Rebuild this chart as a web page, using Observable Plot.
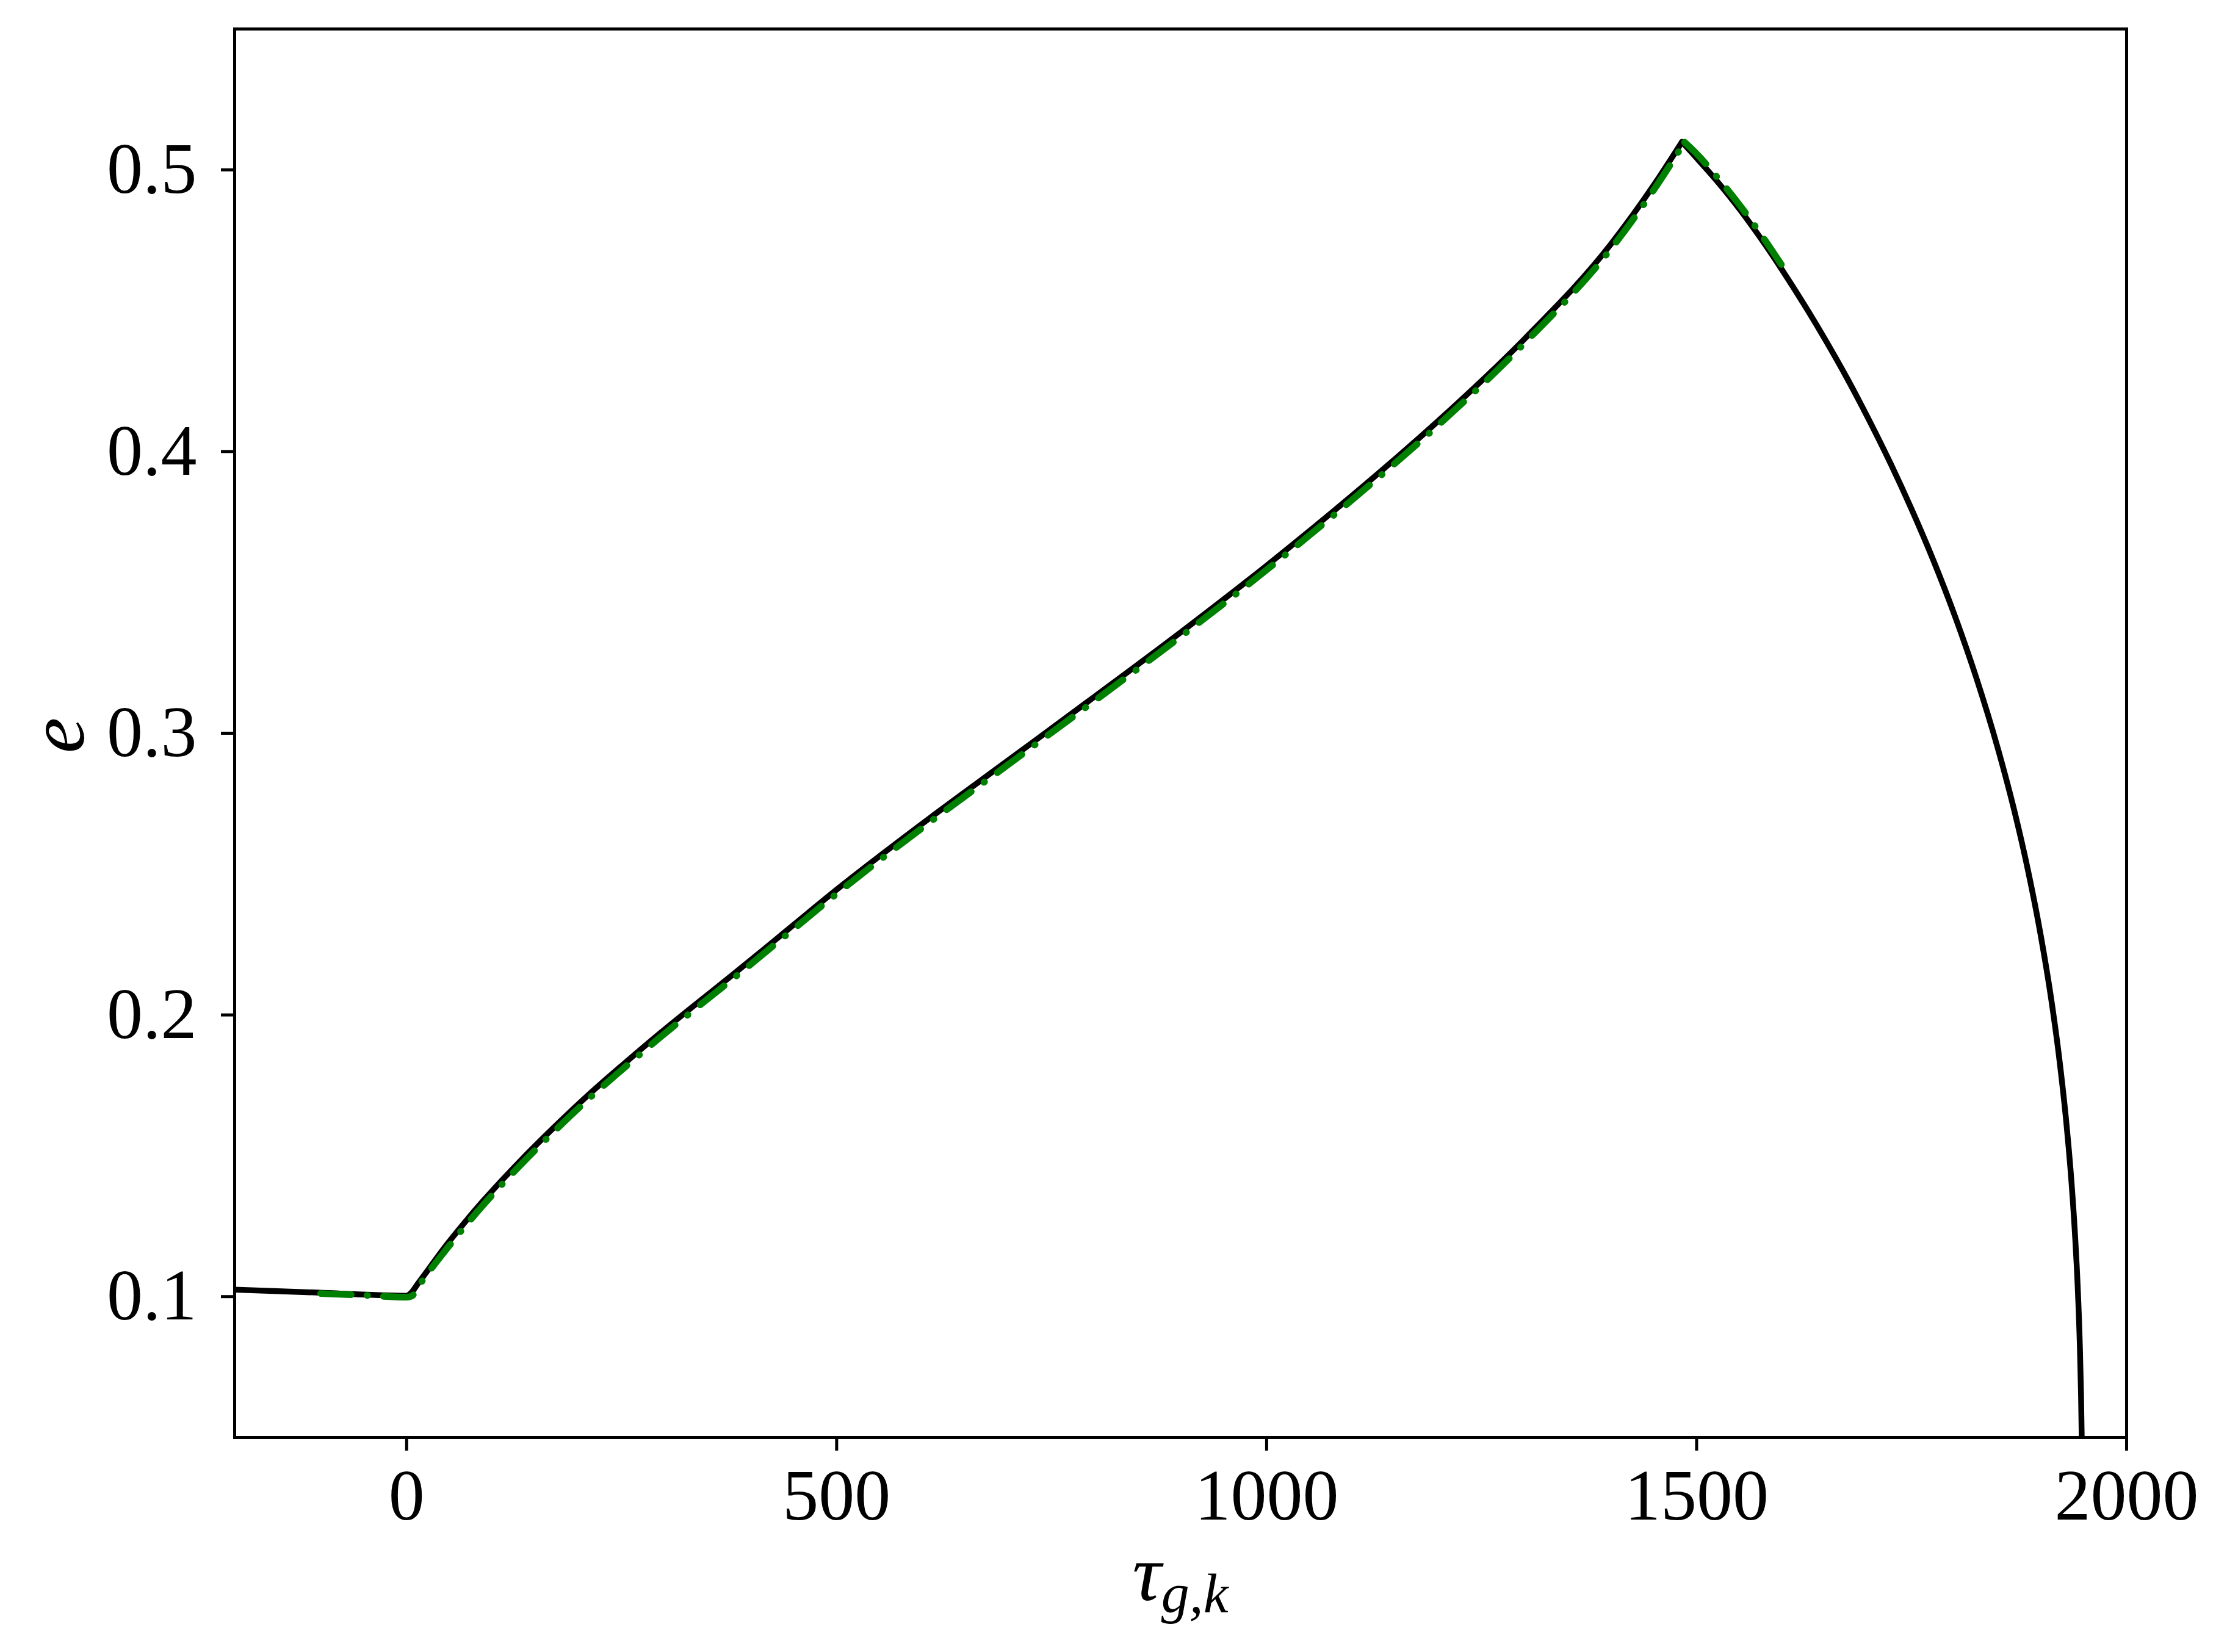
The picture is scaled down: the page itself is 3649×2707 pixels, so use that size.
<!DOCTYPE html>
<html>
<head>
<meta charset="utf-8">
<script src="https://cdn.jsdelivr.net/npm/d3@7"></script>
<script src="https://cdn.jsdelivr.net/npm/@observablehq/plot@0.6"></script>
<style>
  html, body { margin: 0; padding: 0; background: #ffffff; }
  #chart svg { display: block; }
</style>
</head>
<body>
<div id="chart"></div>
<script>
// ---- data ----
// black curve: rising branch (up to the peak) and falling branch (from the peak)
const blackRiseTau = [-200, -100, 0, 4, 14, 48, 89, 130, 171, 212, 254, 295, 337, 378, 411, 450, 500, 600, 700, 800, 900, 1000, 1100, 1200, 1300, 1400, 1450, 1483];
const blackRiseE   = [0.1025, 0.1014, 0.1003, 0.1010, 0.1050, 0.1190, 0.1340, 0.1475, 0.1600, 0.1718, 0.1830, 0.1936, 0.2040, 0.2140, 0.2222, 0.2320, 0.2445, 0.2680, 0.2905, 0.3130, 0.3358, 0.3595, 0.3845, 0.4110, 0.4400, 0.4735, 0.4945, 0.5099];
const blackFallTau = [1483, 1500, 1525, 1550, 1575, 1600, 1625, 1650, 1675, 1700, 1725, 1750, 1775, 1800, 1825, 1850, 1870, 1885, 1900, 1912, 1922, 1930, 1936, 1940, 1943, 1945.5, 1947, 1947.8];
const blackFallE   = [0.5099, 0.5042, 0.4955, 0.4860, 0.4755, 0.4642, 0.4522, 0.4395, 0.4260, 0.4115, 0.3961, 0.3795, 0.3616, 0.3419, 0.3199, 0.2949, 0.2718, 0.2518, 0.2285, 0.2063, 0.1838, 0.1615, 0.1403, 0.1220, 0.1044, 0.0839, 0.0654, 0.0500];

// green dash-dot curve
const greenRiseTau = [-100, -50, 0, 6, 14, 48, 89, 130, 171, 212, 254, 295, 337, 378, 450, 500, 600, 700, 800, 900, 1000, 1100, 1200, 1300, 1400, 1450, 1486];
const greenRiseE   = [0.1011, 0.1005, 0.0998, 0.1002, 0.1038, 0.1175, 0.1325, 0.1460, 0.1585, 0.1703, 0.1815, 0.1921, 0.2025, 0.2125, 0.2305, 0.2430, 0.2665, 0.2890, 0.3115, 0.3343, 0.3580, 0.3830, 0.4095, 0.4385, 0.4718, 0.4928, 0.5098];
const greenFallTau = [1486, 1500, 1525, 1550, 1575, 1600];
const greenFallE   = [0.5098, 0.5057, 0.4970, 0.4875, 0.4770, 0.4657];

const xTicks = [0, 500, 1000, 1500, 2000];
const yTicks = [0.1, 0.2, 0.3, 0.4, 0.5];
const xDomain = [-200, 2000];
const yDomain = [0.05, 0.55];
const xLabelMain = "τ";
const xLabelSub = "g,k";
const yLabel = "e";

// ---- build tables ----
const toRows = (ts, es, seg) => ts.map((t, i) => ({t, e: es[i], seg}));
const black = [...toRows(blackRiseTau, blackRiseE, "rise"), ...toRows(blackFallTau, blackFallE, "fall")];
const green = [...toRows(greenRiseTau, greenRiseE, "rise"), ...toRows(greenFallTau, greenFallE, "fall")];

const W = 3649, H = 2707;
const mL = 384, mR = 165, mT = 47, mB = 352;
const fontFamily = "'Liberation Serif', 'DejaVu Serif', serif";

const chart = Plot.plot({
  width: W,
  height: H,
  marginLeft: mL,
  marginRight: mR,
  marginTop: mT,
  marginBottom: mB,
  style: {background: "#ffffff", fontFamily, color: "#000"},
  x: {domain: xDomain},
  y: {domain: yDomain},
  marks: [
    Plot.line(black, {x: "t", y: "e", z: "seg", stroke: "#000000", strokeWidth: 9.5, curve: "monotone-x", clip: true}),
    Plot.line(green, {x: "t", y: "e", z: "seg", stroke: "#008000", strokeWidth: 11, curve: "monotone-x",
                      strokeDasharray: "50,26,1,26", strokeLinecap: "round", clip: true}),
    Plot.frame({stroke: "#000000", strokeWidth: 5}),
    Plot.axisX({ticks: xTicks, tickSize: 22, tickPadding: 29, strokeWidth: 5, fontSize: 118,
                label: null, tickFormat: d => String(d)}),
    Plot.axisY({ticks: yTicks, tickSize: 22, tickPadding: 40, strokeWidth: 5, fontSize: 118,
                label: null, tickFormat: d => d.toFixed(1)})
  ]
});

document.getElementById("chart").appendChild(chart);

// ---- axis titles (math italic with subscript) ----
const svg = d3.select(chart);
const cx = mL + (W - mL - mR) / 2;
const cy = mT + (H - mT - mB) / 2;

const xt = svg.append("text")
  .attr("x", cx)
  .attr("y", H - mB + 267)
  .attr("text-anchor", "middle")
  .attr("font-family", fontFamily)
  .attr("font-style", "italic")
  .attr("fill", "#000");
xt.append("tspan").attr("font-size", 132).text(xLabelMain);
xt.append("tspan").attr("font-size", 92).attr("dy", 20).text(xLabelSub);

svg.append("text")
  .attr("transform", `translate(${137},${cy + 4}) rotate(-90)`)
  .attr("text-anchor", "middle")
  .attr("font-family", fontFamily)
  .attr("font-style", "italic")
  .attr("font-size", 132)
  .attr("fill", "#000")
  .text(yLabel);
</script>
</body>
</html>
